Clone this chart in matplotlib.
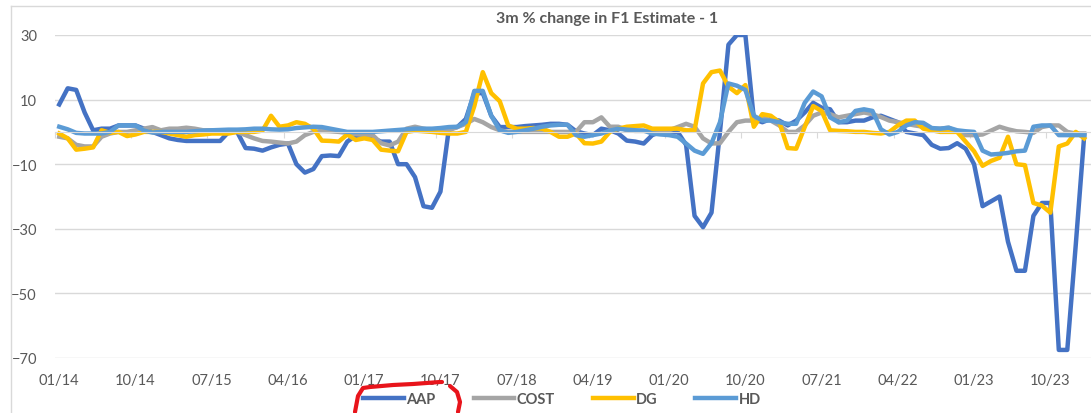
import matplotlib
matplotlib.use("Agg")
import matplotlib.pyplot as plt
from matplotlib.lines import Line2D
import numpy as np

# monthly observations, 01/14 .. 02/24
aap = [8.5, 13.5, 13, 6, 0.5, 1, 1, 2, 2, 2,
       1, 0, -1, -2, -2.5, -2.8, -2.8, -2.8, -2.8, -2.8,
       0, 0, -5, -5.2, -5.8, -4.8, -4, -3.6, -10, -12.6,
       -11.5, -7.5, -7.3, -7.5, -3, -1.2, -1, -2, -3, -3,
       -10, -10, -14, -23, -23.5, -18.5, 1, 1.5, 4, 12,
       12, 5, 1.5, 1.5, 1.5, 1.8, 2, 2.2, 2.5, 2.5,
       2.2, 0.2, -0.5, -1, 1, 0.5, -0.5, -2.7, -3, -3.6,
       -1, 0, 0, 0, -4, -26, -29.5, -25, 0, 27,
       30, 30, 4, 3, 4, 3.5, 2, 3.5, 6, 9,
       7.5, 7, 3, 3, 3.5, 3.5, 4.5, 5, 4, 3,
       0, -0.5, -1, -4, -5.2, -5, -3.5, -5.2, -10, -23,
       -21.5, -20, -34, -43, -43, -26, -22, -22, -67.5, -67.5,
       -35, -1]
cost = [-1.5, -2, -4, -4.5, -4.5, -1.5, -0.5, 0, 0, 0.5,
        1, 1.5, 0.5, 1, 1, 1.3, 1, 0.5, 0.5, 0,
        0, 0, -1, -2, -2.8, -3, -3.3, -3.6, -3, -1,
        0, 0.3, 0.2, 0, -0.3, -0.7, -1, -1, -3.5, -4.2,
        -3, 1, 1.6, 1, 0.5, 0.3, 0.5, 1.5, 2.5, 4,
        3, 1.5, 0.5, 0, 0, 0, 0, 0, 0, 0,
        0, 0, 3, 3, 4.5, 1.6, 1.6, 0.5, 0.3, 0.3,
        0.3, 0.3, 0.5, 1.5, 2.5, 1.6, -2, -3.6, -3.5, 0,
        3, 3.5, 3.5, 4.5, 3.5, 2, 0, 0, 2, 5,
        6, 5.5, 4.5, 5, 5.5, 6, 5.5, 4.6, 3.5, 3,
        2.5, 2, 1.6, 1, 1, 1.3, 0, -1, -1, -0.8,
        0.4, 1.6, 0.8, 0.2, 0, -0.3, 1.5, 2, 2, 0,
        -0.5, -0.5]
dg = [-0.5, -2, -5.5, -5.2, -4.8, 0.5, -0.3, 0, -1.3, -0.8,
      0, 0, 0, -0.5, -1, -1.5, -1, -0.8, -0.5, -0.5,
      -0.5, 0, 0, 0, 0.4, 5, 1.6, 2, 3, 2.5,
      1, -2.7, -2.8, -3, -0.8, -2.5, -2, -2.5, -5.5, -5.8,
      -6, 0, 0.4, 0.2, 0, -0.3, -0.5, -0.5, 0, 8,
      18.5, 12, 9.5, 2, 1, 1, 1.2, 1, 0, -1.5,
      -1.5, -0.5, -3.5, -3.6, -3, 0, 1, 1.6, 1.8, 2,
      1, 1, 1, 1, 0.5, 0.5, 15, 18.5, 19, 14,
      12, 14.5, 1.6, 5.5, 5, 3, -5, -5.2, 1.5, 8,
      6.5, 0.5, 0.3, 0.2, 0, 0, -0.3, -0.5, 0, 2,
      3.5, 3.5, 1, 0.5, 0, 0, 0, -3, -6, -10.5,
      -9, -8, -1.5, -10, -10.3, -22, -22.8, -25, -4.5, -3.6,
      0, -2]
hd = [1.6, 0.8, -0.3, -0.5, -0.5, -0.5, 0, 2, 2, 2,
      0.4, -0.2, 0, 0, 0, 0, 0.2, 0.4, 0.5, 0.6,
      0.7, 0.7, 0.8, 1, 1, 0.8, 0.7, 0.8, 1.2, 1.4,
      1.6, 1.5, 1, 0.5, 0, 0, 0, 0, 0.2, 0.4,
      0.6, 0.8, 1, 1, 1, 1.2, 1.5, 1.6, 3, 12.7,
      12.7, 5, 0.5, -0.3, 0, 0.5, 1, 1.6, 2, 2.2,
      2.2, -1, -1.5, -1, -0.5, 0.4, 1, 0.7, 0.5, 0.4,
      -0.5, -0.8, -1, -1.5, -3.6, -5.8, -6.8, -3.5, 3, 15,
      14.3, 13, 5, 3.5, 3.5, 3, 2.5, 2.5, 9, 12.5,
      11, 4.5, 3, 3.5, 6.5, 7, 6.5, 0.8, -0.8, 0,
      2, 3, 2.8, 1.2, 1, 1.3, 0.5, 0.2, 0, -5.8,
      -7, -6.8, -6.5, -6, -5.8, 1.6, 2, 2, -1, -1,
      -1, -1]

names = ["AAP", "COST", "DG", "HD"]
colors = ["#4472C4", "#A5A5A5", "#FFC000", "#5B9BD5"]
tick_labels = ["01/14", "10/14", "07/15", "04/16", "01/17", "10/17", "07/18",
               "04/19", "01/20", "10/20", "07/21", "04/22", "01/23", "10/23"]
y_ticks = [30, 10, -10, -30, -50, -70]

W, H = 1091, 414
fig = plt.figure(figsize=(W / 100, H / 100), dpi=100)
plt.rcParams["font.family"] = ["Lato", "DejaVu Sans"]
txt = "#595959"
grid = "#D9D9D9"

ax = fig.add_axes([55 / W, 1 - 359 / H, 1 - 55 / W, 323 / H])
x = np.arange(len(aap))
for vals, name, c in zip([aap, cost, dg, hd], names, colors):
    ax.plot(x, vals, color=c, lw=3.2, label=name, solid_joinstyle="round")

ax.set_xlim(-0.35, 121.8)
ax.set_ylim(-70, 30)
ax.set_yticks(y_ticks)
ax.yaxis.grid(True, color=grid, lw=1)
ax.set_axisbelow(True)
ax.tick_params(axis="y", length=0, pad=13, labelsize=10.5, labelcolor=txt)

for s in ["top", "right", "left"]:
    ax.spines[s].set_visible(False)
ax.spines["bottom"].set_position(("data", 0))
ax.spines["bottom"].set_color(grid)
tick_pos = np.arange(len(tick_labels)) * 9
ax.set_xticks(tick_pos - 0.5)
ax.set_xticklabels([])
ax.tick_params(axis="x", length=4, color=grid)

sec = ax.secondary_xaxis("bottom")
sec.set_xticks(tick_pos)
sec.set_xticklabels(tick_labels)
sec.tick_params(length=0, pad=11, labelsize=10.5, labelcolor=txt)
sec.spines["bottom"].set_visible(False)

fig.text(607 / W, 1 - 19 / H, "3m % change in F1 Estimate - 1", ha="center",
         va="center", fontsize=11.5, fontweight="bold", color=txt)

leg = fig.legend(loc="center", bbox_to_anchor=(562 / W, 1 - 400 / H), ncol=4,
                 frameon=False, fontsize=10.5, handlelength=2.8,
                 handletextpad=0.15, columnspacing=2.6)
for t in leg.get_texts():
    t.set_color(txt)
    t.set_fontweight("bold")

# chart frame (cropped at right and bottom)
fig.add_artist(Line2D([11 / W, 11 / W], [0, 1 - 7 / H], color=grid, lw=1,
                      transform=fig.transFigure))
fig.add_artist(Line2D([11 / W, 1], [1 - 7 / H, 1 - 7 / H], color=grid, lw=1,
                      transform=fig.transFigure))

# red hand-drawn mark around the AAP legend entry
mark_a_x = [355, 358, 363, 370, 393, 413, 440, 442]
mark_a_y = [413, 397, 389, 388, 386, 385, 383, 383]
mark_b_x = [450, 457, 460, 458]
mark_b_y = [387, 393, 403, 413]
for mx, my in [(mark_a_x, mark_a_y), (mark_b_x, mark_b_y)]:
    fig.add_artist(Line2D([v / W for v in mx], [1 - v / H for v in my],
                          color="#E8141B", lw=3, solid_capstyle="round",
                          transform=fig.transFigure))

fig.savefig("out.png", dpi=100, facecolor="white")
